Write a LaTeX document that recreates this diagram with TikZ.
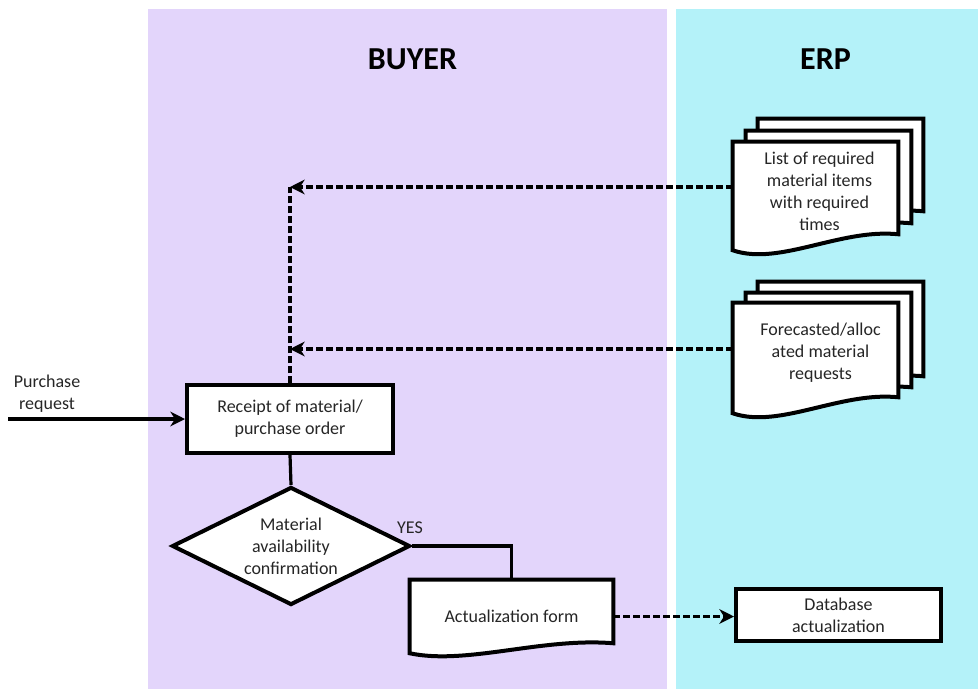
\documentclass[tikz,border=0pt]{standalone}
\usepackage{fontspec}
\setmainfont{Carlito}
\usetikzlibrary{shapes.geometric,arrows.meta,calc}

\pgfdeclarelayer{lanes}
\pgfdeclarelayer{sheets}
\pgfsetlayers{lanes,sheets,main}

\definecolor{buyerlane}{HTML}{E3D5FB}
\definecolor{erplane}{HTML}{B4F2F9}
\definecolor{ink}{HTML}{262626}

\tikzset{
  lbl/.style={font=\fontsize{13.5}{16.5}\selectfont, text=ink, align=center},
  procbox/.style={lbl, draw=black, line width=3pt, fill=white, inner sep=2pt},
  sheet/.style={inner sep=0pt, minimum width=123.75pt},
  outline/.style={draw=black, line width=3pt, fill=white},
  decision/.style={lbl, diamond, aspect=2, draw=black, line width=3pt, fill=white,
    inner sep=0pt, minimum width=178.5pt, minimum height=88.5pt},
  flow/.style={line width=2.4pt, draw=black},
  dataflow/.style={flow, dash pattern=on 5pt off 2.5pt},
  tip/.style={-{Stealth[length=11pt,width=11pt,inset=3.5pt]}},
  lanetitle/.style={font=\fontsize{24}{28}\selectfont\bfseries, text=black, inner sep=0pt},
}

% document sheet with a wavy lower edge, drawn around a named node
% #1 node, #2 rise of the lower right corner, #3 depth of the wave
\newcommand\docoutline[3]{%
  \draw[outline] (#1.north west) -- (#1.north east) -- ($(#1.south east)+(0,-#2)$)
    .. controls ($(#1.south west)!0.65!(#1.south east)+(0,-#2-6)$)
    and ($(#1.south west)!0.28!(#1.south east)+(0,#3)$) .. (#1.south west) -- cycle;}

\begin{document}
\begin{tikzpicture}[x=0.75pt,y=-0.75pt]
\useasboundingbox (0,0) rectangle (978,689);

% swimlanes
\begin{pgfonlayer}{lanes}
  \fill[buyerlane] (148,9) rectangle (667,689);
  \fill[erplane] (676,9) rectangle (978,689);
\end{pgfonlayer}

% lane titles
\node[lanetitle] (buyerTitle) at (412.5,59.5) {BUYER};
\node[lanetitle] (erpTitle) at (825.5,59.5) {ERP};

% ERP document stacks
\node[sheet, minimum height=81pt] (req) at (815.5,196) {};
\node[sheet, minimum height=81pt] (req2) at ($(req)+(13,-11)$) {};
\node[sheet, minimum height=81pt] (req3) at ($(req)+(25,-23)$) {};
\node[lbl] (reqText) at ($(req)+(4,-5)$) {List of required\\material items\\with required\\times};

\node[sheet, minimum height=82.5pt] (fc) at (815.5,358) {};
\node[sheet, minimum height=82.5pt] (fc2) at ($(fc)+(13,-10)$) {};
\node[sheet, minimum height=82.5pt] (fc3) at ($(fc)+(25,-21)$) {};
\node[lbl] (fcText) at ($(fc)+(5,-5)$) {Forecasted/alloc\\ated material\\requests};

% buyer flow
\node[procbox, minimum width=154.5pt, minimum height=51pt] (recv) at (290,419)
  {Receipt of material/\\purchase order};
\node[decision] (dec) at (291,546) {Material\\availability\\confirmation};
\node[lbl, inner sep=0pt, minimum width=152.25pt, minimum height=54.75pt] (form) at (511.5,616.5)
  {Actualization form};
\node[procbox, minimum width=153.75pt, minimum height=39pt] (db) at (838.5,615)
  {Database\\actualization};

\begin{pgfonlayer}{sheets}
  \docoutline{req3}{16}{16}
  \docoutline{req2}{16}{16}
  \docoutline{req}{16}{16}
  \docoutline{fc3}{16}{16}
  \docoutline{fc2}{16}{16}
  \docoutline{fc}{16}{16}
  \docoutline{form}{10}{12}
\end{pgfonlayer}

% incoming request
\node[lbl] (preq) at (47,394) {Purchase\\request};
\coordinate (prin) at (8,419);
\draw[flow, tip] (prin) -- (recv.west);

% control flow
\draw[flow] (recv.south) -- (dec.north);
\draw[flow] (dec.east) -| (form.north);
\node[lbl] (yes) at (410,528) {YES};

% data flows from ERP
\coordinate (reqout) at ([yshift=6.75pt]req.west);
\coordinate (fcout) at ([yshift=6.75pt]fc.west);
\coordinate (mergeA) at (recv.north |- reqout);
\coordinate (mergeB) at (recv.north |- fcout);
\draw[dataflow] (recv.north) -- (mergeA);
\draw[dataflow, tip] (reqout) -- (mergeA);
\draw[dataflow, tip] (fcout) -- (mergeB);
\draw[dataflow, tip] (form.east) -- (form.east -| db.west);
\end{tikzpicture}
\end{document}
